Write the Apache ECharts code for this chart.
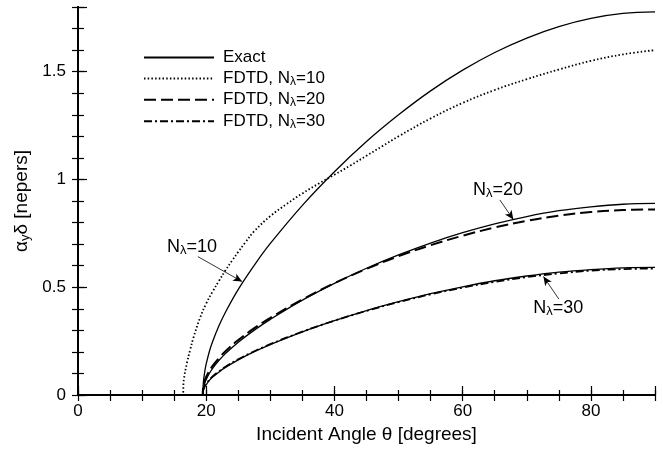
<!DOCTYPE html>
<html lang="en">
<head>
<meta charset="UTF-8">
<title>alpha_y delta vs incident angle</title>
<style>
    html, body { margin: 0; padding: 0; background: #fff; }
    #main { width: 663px; height: 452px; }
</style>
</head>
<body>
<div id="main"></div>
<script src="https://cdn.jsdelivr.net/npm/echarts@6/dist/echarts.min.js"></script>
<script>
    // values (angle in degrees, alpha_y*delta in nepers)
    const exactAngles = [0, 19.47, 19.5, 19.6, 19.8, 20, 20.5, 21, 22, 23, 25, 27.5, 30, 35, 40, 45, 50, 55, 60, 65, 70, 75, 80, 85, 90];
    const exact10 = [0, 0, 0.034, 0.071, 0.114, 0.144, 0.203, 0.248, 0.322, 0.384, 0.490, 0.602, 0.703, 0.880, 1.036, 1.176, 1.300, 1.411, 1.507, 1.589, 1.656, 1.709, 1.747, 1.770, 1.777];
    const exact20 = [0, 0, 0.017, 0.036, 0.057, 0.072, 0.101, 0.124, 0.161, 0.192, 0.245, 0.301, 0.351, 0.440, 0.518, 0.588, 0.650, 0.705, 0.753, 0.794, 0.828, 0.855, 0.873, 0.885, 0.889];
    const exact30 = [0, 0, 0.011, 0.024, 0.038, 0.048, 0.068, 0.083, 0.107, 0.128, 0.163, 0.201, 0.234, 0.293, 0.345, 0.392, 0.433, 0.470, 0.502, 0.530, 0.552, 0.570, 0.582, 0.590, 0.592];

    const fdtd10Angles = [0, 16.3, 16.5, 17, 17.5, 18, 19, 20, 21, 22, 23, 24, 25, 26, 27.5, 30, 32.5, 35, 37.5, 40, 42.5, 45, 47.5, 50, 55, 60, 65, 70, 75, 80, 85, 90];
    const fdtd10 = [0, 0, 0.07, 0.15, 0.21, 0.265, 0.355, 0.425, 0.48, 0.53, 0.578, 0.622, 0.664, 0.704, 0.76, 0.83, 0.885, 0.935, 0.98, 1.022, 1.065, 1.11, 1.155, 1.2, 1.283, 1.355, 1.415, 1.465, 1.51, 1.55, 1.58, 1.60];

    const fdtd20Angles = [0, 19.4, 19.5, 19.7, 20, 21, 22, 23, 25, 27.5, 30, 35, 40, 45, 50, 55, 60, 65, 70, 75, 80, 85, 90];
    const fdtd20 = [0, 0, 0.03, 0.06, 0.085, 0.135, 0.172, 0.203, 0.255, 0.31, 0.358, 0.443, 0.519, 0.585, 0.644, 0.695, 0.739, 0.777, 0.808, 0.832, 0.849, 0.858, 0.861];

    const fdtd30Angles = [0, 19.45, 19.5, 19.7, 20, 21, 22, 23, 25, 27.5, 30, 35, 40, 45, 50, 55, 60, 65, 70, 75, 80, 85, 90];
    const fdtd30 = [0, 0, 0.02, 0.04, 0.054, 0.086, 0.110, 0.131, 0.166, 0.203, 0.236, 0.294, 0.345, 0.390, 0.431, 0.467, 0.498, 0.525, 0.547, 0.564, 0.577, 0.584, 0.587];

    // callout labels (N lambda values), text positions and arrows, in data units
    const noteN = ['10', '20', '30'];
    const noteAt = [[17.8, 0.686], [65.5, 0.949], [74.9, 0.402]];
    const arrowFrom = [[18.7, 0.642], [65.8, 0.905], [75.0, 0.445]];
    const arrowTo = [[25.6, 0.526], [67.9, 0.814], [72.6, 0.55]];

    const FONT = '"Liberation Sans", Arial, Helvetica, sans-serif';
    const chart = echarts.init(document.getElementById('main'));

    function pairs(xs, ys) {
        return xs.map(function (x, i) { return [x, ys[i]]; });
    }

    function subRich(size) {
        return {
            t: { fontSize: size, fontFamily: FONT, color: '#000', lineHeight: size + 1 },
            s: { fontSize: Math.round(size * 0.7), fontFamily: FONT, color: '#000', lineHeight: Math.round(size * 0.45), verticalAlign: 'bottom' }
        };
    }

    // arrow + text callout pinned to one exact curve
    function callout(i) {
        return {
            markLine: {
                silent: true,
                symbol: ['none', 'arrow'],
                symbolSize: [6, 9],
                label: { show: false },
                lineStyle: { color: '#000', width: 0.8, type: 'solid' },
                data: [[{ coord: arrowFrom[i] }, { coord: arrowTo[i] }]]
            },
            markPoint: {
                silent: true,
                symbol: 'circle',
                symbolSize: 0,
                data: [{
                    coord: noteAt[i],
                    label: {
                        show: true,
                        position: 'inside',
                        formatter: '{t|N}{s|λ}{t|=' + noteN[i] + '}',
                        rich: subRich(18)
                    }
                }]
            }
        };
    }

    const exactLine = { color: '#000', width: 1.3, type: 'solid' };

    function line(name, data, lineStyle, extra) {
        return Object.assign({
            name: name,
            type: 'line',
            data: data,
            symbol: 'none',
            smooth: 0.4,
            lineStyle: lineStyle,
            itemStyle: { color: '#000' },
            xAxisIndex: 0,
            yAxisIndex: 0,
            animation: false
        }, extra || {});
    }

    const axisFont = { color: '#000', fontSize: 17, fontFamily: FONT };
    const tickStyle = { color: '#000', width: 1.2 };

    function ticks(len) {
        return { show: true, inside: true, length: len, lineStyle: tickStyle };
    }

    // extra axis that only adds inward ticks
    function tickAxis(min, max, interval, pos, len) {
        return {
            type: 'value', min: min, max: max, interval: interval, position: pos, z: 5,
            axisLine: { show: false },
            axisTick: ticks(len),
            axisLabel: { show: false },
            splitLine: { show: false }
        };
    }

    const option = {
        backgroundColor: '#fff',
        animation: false,
        grid: { left: 78, right: 8, top: 7, bottom: 57 },
        legend: {
            orient: 'vertical',
            left: 143,
            top: 49,
            padding: 0,
            itemWidth: 70,
            itemHeight: 12,
            itemGap: 3.9,
            selectedMode: false,
            itemStyle: { opacity: 0 },
            data: ['Exact', 'FDTD, Nλ=10', 'FDTD, Nλ=20', 'FDTD, Nλ=30'],
            formatter: function (n) {
                const k = n.indexOf('λ');
                if (k < 0) return '{t|' + n + '}';
                return '{t|' + n.slice(0, k) + '}{s|λ}{t|' + n.slice(k + 1) + '}';
            },
            textStyle: { rich: subRich(17), padding: [0, 0, 0, 4] }
        },
        xAxis: [
            {
                type: 'value', min: 0, max: 90, interval: 5, position: 'bottom', z: 5,
                axisLine: { lineStyle: { color: '#000', width: 2 } },
                axisTick: ticks(5),
                axisLabel: Object.assign({
                    margin: 8,
                    formatter: function (v) { return v % 20 === 0 ? String(v) : ''; }
                }, axisFont),
                splitLine: { show: false },
                name: 'Incident Angle θ [degrees]',
                nameLocation: 'middle',
                nameGap: 25,
                nameTextStyle: { color: '#000', fontSize: 19, fontFamily: FONT }
            },
            tickAxis(0, 90, 20, 'bottom', 9),
            Object.assign(tickAxis(0, 90, 5, 'top', 6), { axisLine: { show: true, lineStyle: { color: '#000', width: 2 } } })
        ],
        yAxis: [
            {
                type: 'value', min: 0, max: 1.8, interval: 0.1, position: 'left', z: 5,
                axisLine: { show: true, lineStyle: { color: '#000', width: 2 } },
                axisTick: ticks(6),
                axisLabel: Object.assign({
                    margin: 12,
                    formatter: function (v) {
                        return Math.abs(v * 2 - Math.round(v * 2)) < 1e-6 ? String(Math.round(v * 10) / 10) : '';
                    }
                }, axisFont),
                splitLine: { show: false },
                name: '{a|α}{s|y}{a|δ [nepers]}',
                nameLocation: 'middle',
                nameGap: 44,
                nameTextStyle: {
                    rich: {
                        a: { fontSize: 19, fontFamily: FONT, color: '#000', lineHeight: 20 },
                        s: { fontSize: 13, fontFamily: FONT, color: '#000', lineHeight: 9, verticalAlign: 'bottom' }
                    }
                }
            },
            tickAxis(0, 1.8, 0.5, 'left', 9),
            Object.assign(tickAxis(0, 1.8, 0.1, 'right', 6), { axisLine: { show: true, lineStyle: { color: '#000', width: 2 } } })
        ],
        series: [
            line('FDTD, Nλ=10', pairs(fdtd10Angles, fdtd10), { color: '#000', width: 1.8, type: [1.5, 2.2] }),
            line('FDTD, Nλ=20', pairs(fdtd20Angles, fdtd20), { color: '#000', width: 2, type: [12, 5] }),
            line('FDTD, Nλ=30', pairs(fdtd30Angles, fdtd30), { color: '#000', width: 1.8, type: [8, 3, 2, 3] }),
            line('Exact', pairs(exactAngles, exact10), exactLine, callout(0)),
            line('Exact', pairs(exactAngles, exact20), exactLine, callout(1)),
            line('Exact', pairs(exactAngles, exact30), exactLine, callout(2))
        ]
    };

    chart.setOption(option);
</script>
</body>
</html>
